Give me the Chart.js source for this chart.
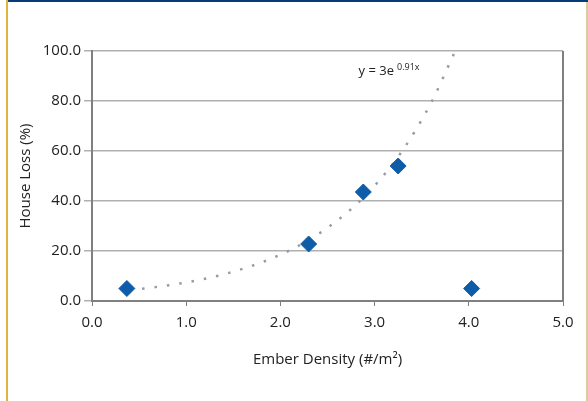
<!DOCTYPE html>
<html>
<head>
<meta charset="utf-8">
<script src="https://cdn.jsdelivr.net/npm/chart.js@4"></script>
<style>
  html, body { margin: 0; padding: 0; background: #fff; }
  #wrap { position: relative; width: 588px; height: 401px; overflow: hidden; }
  #topbar { position: absolute; left: 6px; top: 0; width: 582px; height: 2px; background: #063b78; }
  #leftbar { position: absolute; left: 6px; top: 0; width: 2px; height: 401px; background: #e2b43c; }
  #rightbar { position: absolute; left: 586px; top: 2px; width: 2px; height: 399px; background: #dccaa2; }
  canvas { position: absolute; left: 0; top: 0; }
</style>
</head>
<body>
<div id="wrap">
  <canvas id="chart" width="588" height="401"></canvas>
  <div id="topbar"></div>
  <div id="leftbar"></div>
  <div id="rightbar"></div>
</div>
<script>
// measured points (ember density, house loss)
var emberDensity = [0.37, 2.30, 2.88, 3.25, 4.03];
var houseLoss = [5.0, 22.8, 43.6, 54.0, 5.0];

// dotted trendline
var trendX = [0.4, 0.9, 1.4, 1.9, 2.3, 2.7, 3.0, 3.3, 3.6, 3.85];
var trendY = [4.3, 6.8, 10.7, 16.9, 24.4, 35.1, 46.1, 60.4, 79.3, 99.5];

var xTicks = [0, 1, 2, 3, 4, 5];
var yTicks = [0, 20, 40, 60, 80, 100];

var FONT = '"Open Sans", "Noto Sans", sans-serif';

function toPoints(xs, ys) {
    var out = [];
    for (var i = 0; i < xs.length; i++) out.push({ x: xs[i], y: ys[i] });
    return out;
}

// right frame line + equation label
var extras = {
    id: 'extras',
    afterDraw: function (chart) {
        var c = chart.ctx, a = chart.chartArea;
        c.save();
        c.strokeStyle = '#808080';
        c.lineWidth = 2;
        c.beginPath();
        c.moveTo(a.right, a.top);
        c.lineTo(a.right, a.bottom + 1);
        c.stroke();

        c.fillStyle = '#222';
        c.textBaseline = 'alphabetic';
        c.font = '13px ' + FONT;
        c.textAlign = 'right';
        c.fillText('y = 3e', 394, 75);
        c.font = '9px ' + FONT;
        c.textAlign = 'left';
        c.fillText('0.91x', 397, 70);
        c.restore();
    }
};

var ctx = document.getElementById('chart').getContext('2d');
var chart = new Chart(ctx, {
    type: 'scatter',
    data: {
        datasets: [{
            label: 'Trend',
            type: 'line',
            data: toPoints(trendX, trendY),
            borderColor: '#9a9aa4',
            borderWidth: 2.5,
            borderDash: [2.5, 10],
            pointRadius: 0,
            fill: false,
            cubicInterpolationMode: 'monotone',
            order: 2
        }, {
            label: 'House loss',
            data: toPoints(emberDensity, houseLoss),
            pointStyle: 'rectRot',
            pointRadius: 8,
            backgroundColor: '#0f5ca8',
            borderColor: '#0f5ca8',
            order: 1
        }]
    },
    options: {
        responsive: false,
        animation: false,
        layout: { padding: { left: 8, top: 51, right: 25, bottom: 0 } },
        plugins: { legend: { display: false }, tooltip: { enabled: false } },
        scales: {
            x: {
                type: 'linear',
                min: 0, max: 5,
                afterBuildTicks: function (s) { s.ticks = xTicks.map(function (v) { return { value: v }; }); },
                afterFit: function (s) { s.height = 100; },
                border: { color: '#808080', width: 2 },
                grid: { drawOnChartArea: false, drawTicks: true, tickLength: 5, color: '#808080' },
                ticks: {
                    color: '#222', padding: 8,
                    font: { family: FONT, size: 15 },
                    callback: function (v) { return v.toFixed(1); }
                },
                title: {
                    display: true, text: 'Ember Density (#/m²)', color: '#222',
                    font: { family: FONT, size: 15 },
                    padding: { top: 0, bottom: 32 }
                }
            },
            y: {
                type: 'linear',
                min: 0, max: 100,
                afterBuildTicks: function (s) { s.ticks = yTicks.map(function (v) { return { value: v }; }); },
                afterFit: function (s) { s.width = 84; },
                border: { color: '#808080', width: 2 },
                grid: { color: '#b0b0b0', lineWidth: 1.5, tickLength: 8 },
                ticks: {
                    color: '#222', padding: 3,
                    font: { family: FONT, size: 15 },
                    callback: function (v) { return v.toFixed(1); }
                },
                title: {
                    display: true, text: 'House Loss (%)', color: '#222',
                    font: { family: FONT, size: 15 },
                    padding: { top: 9, bottom: 0 }
                }
            }
        }
    },
    plugins: [extras]
});
</script>
</body>
</html>
